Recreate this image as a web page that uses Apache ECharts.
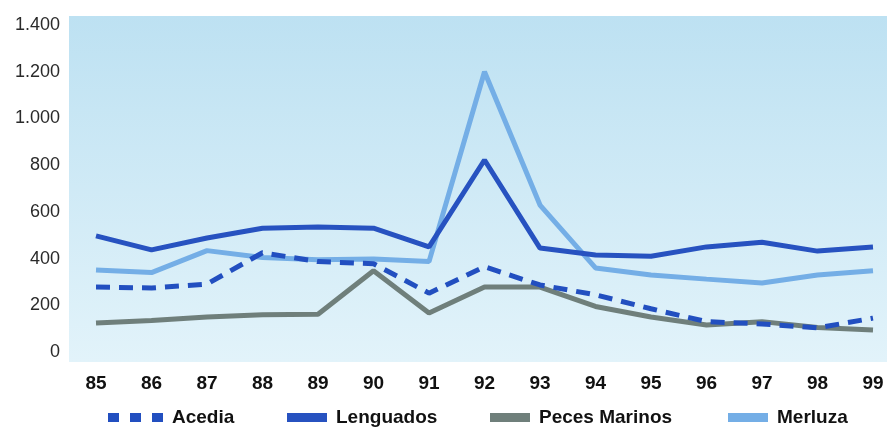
<!DOCTYPE html>
<html><head><meta charset="utf-8">
<script src="https://cdn.jsdelivr.net/npm/echarts@6/dist/echarts.min.js"></script>
<style>html,body{margin:0;padding:0;background:#fff}#c{width:887px;height:434px}</style>
</head><body><div id="c"></div>
<script>
const years = ['85','86','87','88','89','90','91','92','93','94','95','96','97','98','99'];
const acedia = [278,274,291,425,387,378,252,365,287,245,185,130,120,103,145];
const lenguados = [497,437,488,530,535,530,450,822,445,415,410,450,470,432,450];
const pecesMarinos = [124,135,150,160,162,348,167,278,278,195,150,116,130,105,94];
const merluza = [351,340,434,405,395,398,387,1200,629,360,330,312,295,330,348];
const yTicks = [0,200,400,600,800,1000,1200,1400];
const legendNames = ['Acedia','Lenguados','Peces Marinos','Merluza'];

const chart = echarts.init(document.getElementById('c'));
const fmt = v => String(v).replace(/\B(?=(\d{3})+(?!\d))/g, '.');
const font = "'Liberation Sans',Arial,sans-serif";
const legendLeft = [103,282,485,723];
const legendW = [55,40,40,40];
const icons = ['path://M0,0h11v9h-11zM22,0h11v9h-11zM44,0h11v9h-11z','rect','rect','rect'];
chart.setOption({
  animation:false,
  graphic:[{type:'rect',z:-10,shape:{x:69,y:16,width:818,height:346},
    style:{fill:new echarts.graphic.LinearGradient(0,0,0,1,[{offset:0,color:'#bde1f2'},{offset:1,color:'#e2f3fa'}])}}],
  grid:{left:96,right:14,top:25,bottom:82},
  xAxis:{type:'category',data:years,boundaryGap:false,
    axisLine:{show:false},axisTick:{show:false},
    axisLabel:{margin:22,fontSize:19,fontWeight:'bold',color:'#111',fontFamily:font}},
  yAxis:{type:'value',min:yTicks[0],max:yTicks[yTicks.length-1],interval:200,
    splitLine:{show:false},axisLine:{show:false},axisTick:{show:false},
    axisLabel:{margin:36,fontSize:18,color:'#2a2a2a',fontFamily:font,formatter:fmt}},
  legend:legendNames.map((n,i)=>({left:legendLeft[i],bottom:2,itemWidth:legendW[i],itemHeight:9,
    textStyle:{fontSize:19,fontWeight:'bold',color:'#111',fontFamily:font,padding:[0,0,0,4]},
    data:[{name:n,icon:icons[i]}]})),
  series:[
    {name:'Peces Marinos',type:'line',data:pecesMarinos,symbol:'none',z:2,
      itemStyle:{color:'#6f7f7b'},lineStyle:{width:5,color:'#6f7f7b'}},
    {name:'Merluza',type:'line',data:merluza,symbol:'none',z:3,
      itemStyle:{color:'#74aee6'},lineStyle:{width:5,color:'#74aee6'}},
    {name:'Lenguados',type:'line',data:lenguados,symbol:'none',z:4,
      itemStyle:{color:'#2752c0'},lineStyle:{width:5,color:'#2752c0'}},
    {name:'Acedia',type:'line',data:acedia,symbol:'none',z:5,
      itemStyle:{color:'#224fc0'},lineStyle:{width:5,color:'#224fc0',type:[14,9]}}
  ]
});
</script></body></html>
